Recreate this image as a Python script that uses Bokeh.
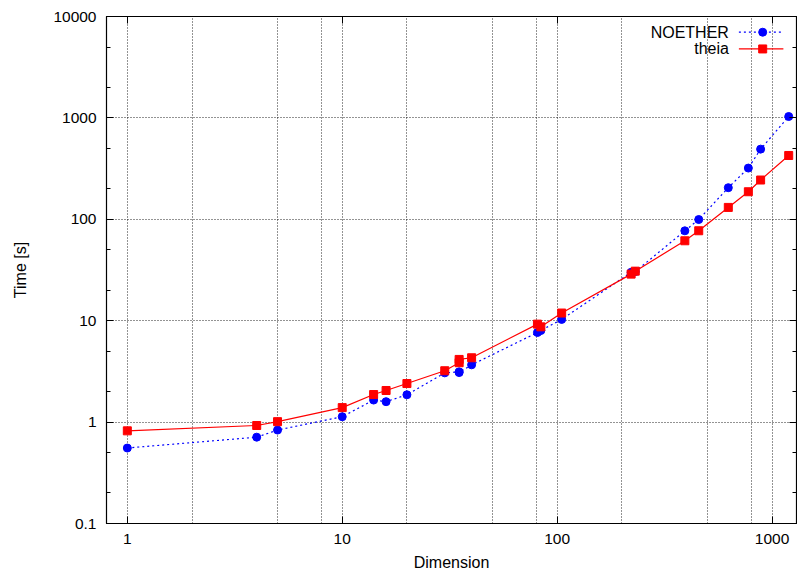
from bokeh.plotting import figure
from bokeh.models import (FixedTicker, CustomJSTickFormatter, Range1d, LinearScale,
                          LogAxis, Label)
from bokeh.embed import file_html
from bokeh.resources import INLINE

# ---- data ----
dims_noether = [1, 4, 5, 10, 14, 16, 20, 30, 35, 35, 40, 81, 84, 105, 221, 231, 393, 456, 626, 776, 885, 1196]
time_noether = [0.555, 0.71, 0.835, 1.13, 1.65, 1.59, 1.86, 3.06, 3.13, 3.08, 3.67, 7.65, 8.0, 10.3, 30.0, 30.5, 77, 99.5, 205, 320, 492, 1032]
dims_theia = [1, 4, 5, 10, 14, 16, 20, 30, 35, 35, 40, 81, 84, 105, 221, 231, 393, 456, 626, 776, 885, 1196]
time_theia = [0.82, 0.926, 1.01, 1.39, 1.87, 2.05, 2.40, 3.21, 3.85, 4.15, 4.31, 9.25, 8.7, 11.9, 28.8, 30.8, 61.4, 77.1, 131, 187, 244, 426]

x_major = [1, 10, 100, 1000]
x_grid = [1, 2, 5, 8, 10, 20, 50, 80, 100, 200, 500, 800, 1000]
y_major = [0.1, 1, 10, 100, 1000, 10000]
y_minor = [0.2, 0.5, 2, 5, 20, 50, 200, 500, 2000, 5000]

FONT = "Liberation Sans"

p = figure(width=797, height=577, x_axis_type="log", y_axis_type="log",
           x_range=(0.8, 1300), y_range=(0.1, 10000),
           output_backend="svg", toolbar_location=None,
           min_border_left=106, min_border_right=1, min_border_top=16, min_border_bottom=54)

p.outline_line_color = "black"
p.outline_line_width = 1.2
p.outline_line_alpha = 1

fmt = CustomJSTickFormatter(code="return tick.toString();")

for ax in p.xaxis:
    ax.ticker = FixedTicker(ticks=x_major, minor_ticks=[])
    ax.formatter = fmt
    ax.axis_label = "Dimension"
for ax in p.yaxis:
    ax.ticker = FixedTicker(ticks=y_major, minor_ticks=y_minor)
    ax.formatter = fmt
    ax.axis_label = "Time [s]"

for ax in list(p.xaxis) + list(p.yaxis):
    ax.major_tick_in = 7
    ax.major_tick_out = 0
    ax.minor_tick_in = 4
    ax.minor_tick_out = 0
    ax.major_tick_line_color = "black"
    ax.minor_tick_line_color = "black"
    ax.axis_line_color = "black"
    ax.major_label_text_font = FONT
    ax.major_label_text_font_size = "15.5px"
    ax.major_label_text_color = "black"
    ax.axis_label_text_font = FONT
    ax.axis_label_text_font_size = "16px"
    ax.axis_label_text_font_style = "normal"
    ax.axis_label_text_color = "black"

p.xaxis.major_label_standoff = 10
p.xaxis.axis_label_standoff = 7
p.yaxis.major_label_standoff = 10
p.yaxis.axis_label_standoff = 21

# mirrored ticks (top/right)
blank = CustomJSTickFormatter(code="return '';")
top = LogAxis(ticker=FixedTicker(ticks=x_major, minor_ticks=[]), formatter=blank,
              major_tick_in=7, major_tick_out=0, minor_tick_in=0, minor_tick_out=0,
              major_label_standoff=0, major_label_text_font_size="0px",
              axis_line_color="black", major_tick_line_color="black")
right = LogAxis(ticker=FixedTicker(ticks=y_major, minor_ticks=y_minor), formatter=blank,
                major_tick_in=7, major_tick_out=0, minor_tick_in=4, minor_tick_out=0,
                major_label_standoff=0, major_label_text_font_size="0px",
                axis_line_color="black", major_tick_line_color="black",
                minor_tick_line_color="black")
p.add_layout(top, "above")
p.add_layout(right, "right")

# grid
p.xgrid.ticker = FixedTicker(ticks=x_grid)
p.ygrid.ticker = FixedTicker(ticks=y_major)
for g in (p.xgrid, p.ygrid):
    g.grid_line_color = "black"
    g.grid_line_alpha = 0.85
    g.grid_line_dash = "1 2"
    g.grid_line_width = 1

# series
p.line(dims_noether, time_noether, line_color="#0000ff", line_dash="2 3", line_width=1.2)
p.scatter(dims_noether, time_noether, marker="circle", size=8, fill_color="#0000ff", line_color="#0000ff")
p.line(dims_theia, time_theia, line_color="#ff0000", line_width=1.2)
p.scatter(dims_theia, time_theia, marker="square", size=8, fill_color="#ff0000", line_color="#ff0000")

# gnuplot-style key (label right-aligned, sample to its right), in frame-fraction coordinates
p.extra_x_ranges = {"key": Range1d(0, 1)}
p.extra_y_ranges = {"key": Range1d(0, 1)}
p.extra_x_scales = {"key": LinearScale()}
p.extra_y_scales = {"key": LinearScale()}

key_names = ["NOETHER", "theia"]
key_y = [0.969, 0.936]
key_text_x = 0.902
key_x0, key_x1, key_xm = 0.9165, 0.981, 0.951

p.line([key_x0, key_x1], [key_y[0], key_y[0]], x_range_name="key", y_range_name="key",
       line_color="#0000ff", line_dash="2 3", line_width=1.2)
p.scatter([key_xm], [key_y[0]], x_range_name="key", y_range_name="key",
          marker="circle", size=8, fill_color="#0000ff", line_color="#0000ff")
p.line([key_x0, key_x1], [key_y[1], key_y[1]], x_range_name="key", y_range_name="key",
       line_color="#ff0000", line_width=1.2)
p.scatter([key_xm], [key_y[1]], x_range_name="key", y_range_name="key",
          marker="square", size=8, fill_color="#ff0000", line_color="#ff0000")
for name, yy in zip(key_names, key_y):
    p.add_layout(Label(x=key_text_x, y=yy, x_range_name="key", y_range_name="key",
                       text=name, text_align="right", text_baseline="middle",
                       text_font=FONT, text_font_size="16px", text_color="black"))

open("out.html", "w").write(file_html(p, INLINE))
